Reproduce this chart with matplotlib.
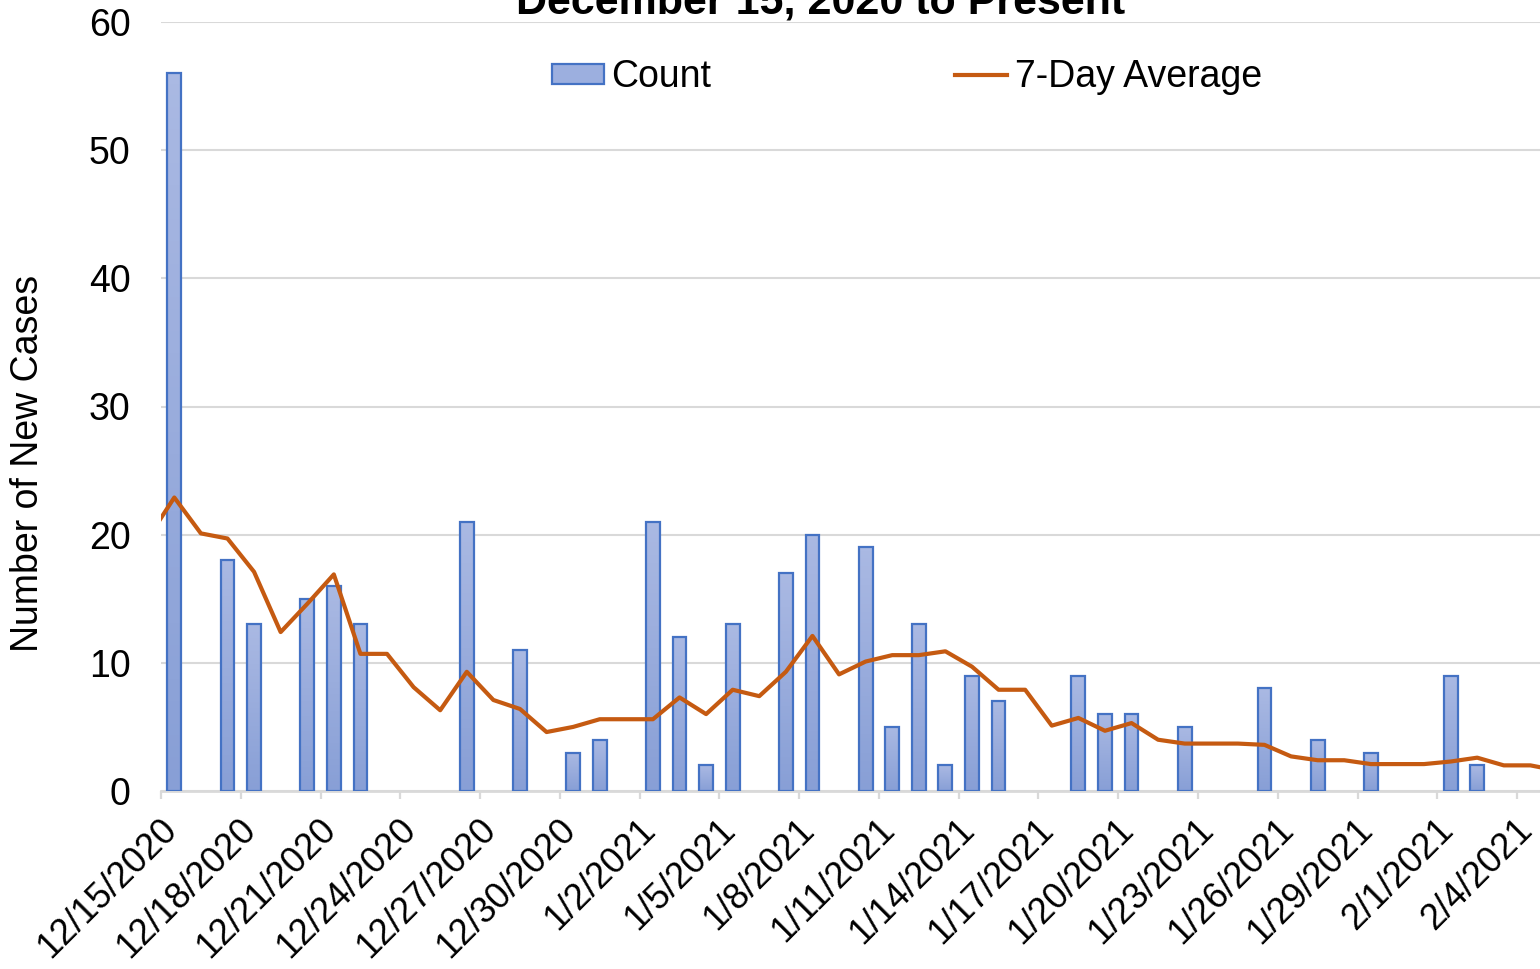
import numpy as np
import pandas as pd
import matplotlib
matplotlib.use("Agg")
import matplotlib.pyplot as plt
from matplotlib.patches import Patch
from matplotlib.lines import Line2D
from matplotlib.colors import LinearSegmentedColormap
import matplotlib.transforms as mtransforms

plt.rcParams["font.family"] = ["Liberation Sans", "DejaVu Sans"]

# giorni dal 14/12/2020 al 5/2/2021 (il 14/12 serve solo per l'inizio della linea)
dates = pd.date_range("2020-12-14", "2021-02-05", freq="D")

# casi giornalieri (nan = giorno fuori dal grafico)
counts = [np.nan,
          56, 0, 18, 13, 0, 15, 16, 13, 0, 0, 0, 21, 0, 11, 0, 3, 4,
          0, 21, 12, 2, 13, 0, 17, 20, 0, 19, 5, 13, 2, 9, 7, 0, 0,
          9, 6, 6, 0, 5, 0, 0, 8, 0, 4, 0, 3, 0, 0, 9, 2, 0, 0, 0]

# media mobile a 7 giorni
avg7 = [19.7,
        22.9, 20.1, 19.7, 17.1, 12.4, 14.6, 16.9, 10.7, 10.7, 8.1, 6.3,
        9.3, 7.1, 6.4, 4.6, 5.0, 5.6, 5.6, 5.6, 7.3, 6.0, 7.9, 7.4,
        9.3, 12.1, 9.1, 10.1, 10.6, 10.6, 10.9, 9.7, 7.9, 7.9, 5.1,
        5.7, 4.7, 5.3, 4.0, 3.7, 3.7, 3.7, 3.6, 2.7, 2.4, 2.4, 2.1,
        2.1, 2.1, 2.3, 2.6, 2.0, 2.0, 1.6]

labels = [f"{d.month}/{d.day}/{d.year}" for d in dates]
x = np.arange(len(dates)) - 1   # 12/15 -> 0

BAR_FACE = "#9CAFDF"
BAR_EDGE = "#4472C4"
LINE_COL = "#C55A11"
GRID = "#D9D9D9"
FS = 26

fig = plt.figure(figsize=(15.4, 9.69), dpi=100)
ax = fig.add_axes([161 / 1540, 178 / 969, 1379 / 1540, 769 / 969])

# i giorni a zero non vanno disegnati (altrimenti resta il bordo della barra)
c = np.array(counts, dtype=float)
c[c == 0] = np.nan
bars = ax.bar(x, c, width=0.52, color=BAR_FACE, edgecolor=BAR_EDGE, lw=1.6, zorder=2)

# sfumatura verticale tipo Excel dentro ogni barra
grad = LinearSegmentedColormap.from_list("g", ["#889FD6", "#AAB9E3"])
for b in bars:
    h = b.get_height()
    if not np.isfinite(h) or h <= 0:
        continue
    x0 = b.get_x()
    im = ax.imshow(np.linspace(0, 1, 64).reshape(-1, 1), cmap=grad, origin="lower",
                   extent=(x0, x0 + b.get_width(), 0, h), aspect="auto", zorder=2.1)
    im.set_clip_path(b)
    b.set_facecolor("none")
    b.set_zorder(2.2)

ax.plot(x, avg7, color=LINE_COL, lw=3.0, zorder=3, solid_joinstyle="round")

ax.set_xlim(-0.5, -0.5 + 1379 / 26.59)
ax.set_ylim(0, 60)
ax.set_yticks(range(0, 61, 10))
ax.tick_params(axis="y", length=0, pad=22, labelsize=FS + 1)
ax.grid(axis="y", color=GRID, lw=1.5, zorder=0)
ax.set_axisbelow(True)
for s in ("left", "right", "top"):
    ax.spines[s].set_visible(False)
ax.spines["bottom"].set_color(GRID)
ax.spines["bottom"].set_linewidth(2)
ax.spines["bottom"].set_zorder(1)

# etichette ogni 3 giorni, centrate sulla categoria; tacche sui bordi
lab_pos = x[1::3]
ax.set_xticks(lab_pos)
ax.set_xticklabels(labels[1::3], rotation=45, ha="right", va="center",
                   rotation_mode="anchor", fontsize=FS)
ax.set_xticks(lab_pos - 0.5, minor=True)
ax.tick_params(axis="x", which="major", length=0, pad=24)
ax.tick_params(axis="x", which="minor", length=6, width=1.6, color=GRID)
shift = mtransforms.ScaledTranslation(-3 / 100, 0, fig.dpi_scale_trans)
for t in ax.get_xticklabels():
    t.set_transform(t.get_transform() + shift)

fig.text(28 / 1540, 1 - 463 / 969, "Number of New Cases", rotation=90,
         ha="center", va="center", fontsize=27)
fig.text(821 / 1540, 1 - 14 / 969, "December 15, 2020 to Present",
         ha="center", va="baseline", fontsize=31, fontweight="bold")

handles = [Patch(facecolor=BAR_FACE, edgecolor=BAR_EDGE, lw=1.6),
           Line2D([], [], color=LINE_COL, lw=3.0)]
fig.legend(handles, ["Count", "7-Day Average"], ncol=2, loc="center",
           bbox_to_anchor=(907 / 1540, 1 - 77 / 969), frameon=False,
           fontsize=FS + 1, handlelength=1.39, handleheight=0.45,
           handletextpad=0.2, columnspacing=6.5, borderpad=0)

fig.savefig("out.png", dpi=100)
